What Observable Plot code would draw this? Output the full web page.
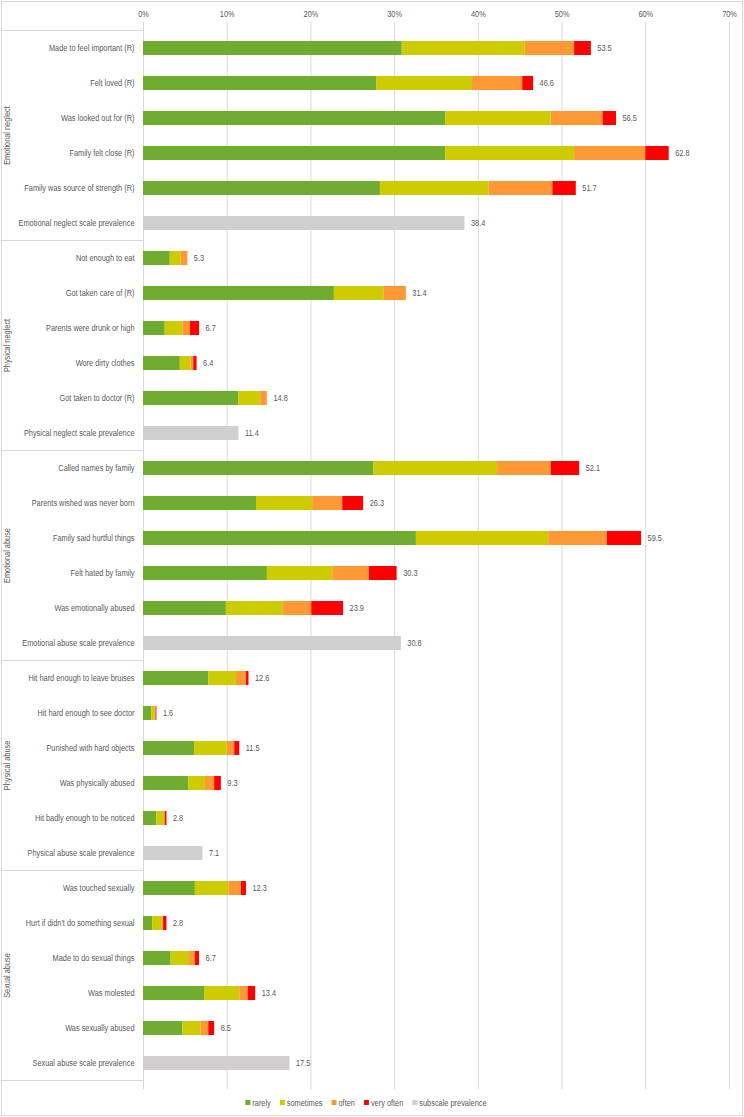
<!DOCTYPE html>
<html>
<head>
<meta charset="utf-8">
<script src="https://cdn.jsdelivr.net/npm/d3@7"></script>
<script src="https://cdn.jsdelivr.net/npm/@observablehq/plot@0.6"></script>
<style>
  html, body { margin: 0; padding: 0; background: #fff; }
  #wrap { position: relative; width: 744px; height: 1117px; }
  #wrap svg { display: block; }
  #frame { position: absolute; left: 1px; top: 1px; width: 740px; height: 1113px; border: 1px solid #d9d9d9; pointer-events: none; }
</style>
</head>
<body>
<div id="wrap">
  <div id="chart"></div>
  <div id="legend"></div>
  <div id="frame"></div>
</div>
<script>
// Item labels, top to bottom
const items = [
  "Made to feel important (R)", "Felt loved (R)", "Was looked out for (R)", "Family felt close (R)",
  "Family was source of strength (R)", "Emotional neglect scale prevalence",
  "Not enough to eat", "Got taken care of (R)", "Parents were drunk or high", "Wore dirty clothes",
  "Got taken to doctor (R)", "Physical neglect scale prevalence",
  "Called names by family", "Parents wished was never born", "Family said hurtful things",
  "Felt hated by family", "Was emotionally abused", "Emotional abuse scale prevalence",
  "Hit hard enough to leave bruises", "Hit hard enough to see doctor", "Punished with hard objects",
  "Was physically abused", "Hit badly enough to be noticed", "Physical abuse scale prevalence",
  "Was touched sexually", "Hurt if didn't do something sexual", "Made to do sexual things",
  "Was molested", "Was sexually abused", "Sexual abuse scale prevalence"
];

// Subscales and how many rows each one covers
const groupNames = ["Emotional neglect", "Physical neglect", "Emotional abuse", "Physical abuse", "Sexual abuse"];
const groupSizes = [6, 6, 6, 6, 6];

// Series (percent of respondents)
const seriesNames = ["rarely", "sometimes", "often", "very often", "subscale prevalence"];
const seriesColors = ["#6fac2f", "#cccc00", "#ff9933", "#ff0000", "#d0cece"];

const rarely     = [30.9, 27.9, 36.1, 36.1, 28.3, 0,   3.2, 22.8, 2.6, 4.4, 11.4, 0,   27.5, 13.5, 32.6, 14.8, 9.9, 0,   7.8, 1.0, 6.1, 5.4, 1.6, 0,   6.2, 1.1, 3.3, 7.3, 4.7, 0];
const sometimes  = [14.7, 11.4, 12.6, 15.4, 13.0, 0,   1.3, 5.9, 2.1, 1.3, 2.6, 0,    14.8, 6.7, 15.8, 7.8, 6.8, 0,    3.3, 0.4, 3.9, 2.0, 0.9, 0,   4.0, 1.2, 2.2, 4.2, 2.2, 0];
const often      = [5.9, 6.0, 6.2, 8.5, 7.6, 0,        0.8, 2.7, 0.9, 0.3, 0.8, 0,    6.4, 3.6, 7.0, 4.4, 3.4, 0,      1.2, 0.1, 0.9, 1.1, 0.1, 0,   1.5, 0.1, 0.7, 1.0, 0.9, 0];
const veryOften  = [2.0, 1.3, 1.6, 2.8, 2.8, 0,        0, 0, 1.1, 0.4, 0, 0,          3.4, 2.5, 4.1, 3.3, 3.8, 0,      0.3, 0.1, 0.6, 0.8, 0.2, 0,   0.6, 0.4, 0.5, 0.9, 0.7, 0];
const prevalence = [0, 0, 0, 0, 0, 38.4,               0, 0, 0, 0, 0, 11.4,           0, 0, 0, 0, 0, 30.8,             0, 0, 0, 0, 0, 7.1,           0, 0, 0, 0, 0, 17.5];

const xTicks = [0, 10, 20, 30, 40, 50, 60, 70];

// Long table for the stacked bars
const seriesValues = [rarely, sometimes, often, veryOften, prevalence];
const rows = [];
items.forEach((item, i) => {
  seriesValues.forEach((vals, s) => {
    if (vals[i] > 0) rows.push({ item, series: seriesNames[s], value: vals[i] });
  });
});
const totals = items.map((item, i) => ({
  item,
  total: Math.round(seriesValues.reduce((acc, vals) => acc + vals[i], 0) * 10) / 10
}));

const fontFamily = '"Liberation Sans", Arial, sans-serif';
const textColor = "#595959";
const gridColor = "#d9d9d9";
const narrow = 0.82; // horizontal squeeze giving a narrow face

// Squeeze a text element horizontally around its own anchor point
function squeeze(node) {
  const sel = d3.select(node);
  const x = +(sel.attr("x") || 0);
  const t = sel.attr("transform") || "";
  sel.attr("transform", `${t} translate(${x},0) scale(${narrow},1) translate(${-x},0)`);
}

const chart = Plot.plot({
  width: 744,
  height: 1092,
  marginTop: 22,
  marginBottom: 3,
  marginLeft: 143,
  marginRight: 15,
  style: { fontFamily, fontSize: "9px", color: textColor, background: "transparent" },
  x: { domain: [0, 70], axis: "top", ticks: xTicks, tickFormat: d => d + "%", tickSize: 0, tickPadding: 6, label: null },
  y: { domain: items, paddingInner: 0.6, paddingOuter: 0.3, tickSize: 0, tickPadding: 9, label: null },
  color: { domain: seriesNames, range: seriesColors },
  marks: [
    Plot.gridX(xTicks.slice(1), { stroke: gridColor, strokeOpacity: 1 }),
    Plot.ruleX([0], { stroke: gridColor }),
    Plot.barX(rows, Plot.stackX({ x: "value", y: "item", fill: "series", order: seriesNames })),
    Plot.text(totals, { x: "total", y: "item", text: d => d.total.toFixed(1), dx: 6, textAnchor: "start", fill: textColor, fontSize: 9 })
  ]
});
document.getElementById("chart").appendChild(chart);
d3.select(chart).selectAll("text").each(function () { squeeze(this); });

// Left panel: subscale separators and rotated subscale names, placed from the y scale
const y = chart.scale("y");
const svg = d3.select(chart);
const half = y.step / 2;
const center = k => y.apply(k) + y.bandwidth / 2;
const panel = svg.append("g").attr("font-family", fontFamily);
let start = 0;
const bounds = [center(items[0]) - half];
groupNames.forEach((name, g) => {
  const first = items[start], last = items[start + groupSizes[g] - 1];
  const top = center(first) - half, bottom = center(last) + half;
  bounds.push(bottom);
  panel.append("text")
    .attr("transform", `translate(10,${(top + bottom) / 2}) rotate(-90) scale(${narrow},1)`)
    .attr("text-anchor", "middle")
    .attr("font-size", 9)
    .attr("fill", textColor)
    .text(name);
  start += groupSizes[g];
});
bounds.forEach(b => {
  panel.append("line")
    .attr("x1", 1).attr("x2", 143)
    .attr("y1", b).attr("y2", b)
    .attr("stroke", gridColor);
});

// Legend below the chart, centred under the plot
const legendSvg = d3.select("#legend").append("svg")
  .attr("width", 744).attr("height", 20)
  .attr("font-family", fontFamily).attr("font-size", 9);
const lg = legendSvg.append("g");
let lx = 0;
seriesNames.forEach((name, i) => {
  const item = lg.append("g").attr("transform", `translate(${lx},0)`);
  item.append("rect").attr("x", 0).attr("y", 8).attr("width", 5).attr("height", 5).attr("fill", seriesColors[i]);
  const t = item.append("text").attr("x", 7).attr("y", 14).attr("fill", textColor).text(name);
  const w = t.node().getComputedTextLength() * narrow;
  squeeze(t.node());
  lx += 7 + w + 9;
});
lx -= 9;
lg.attr("transform", `translate(${366 - lx / 2},0)`);
</script>
</body>
</html>
